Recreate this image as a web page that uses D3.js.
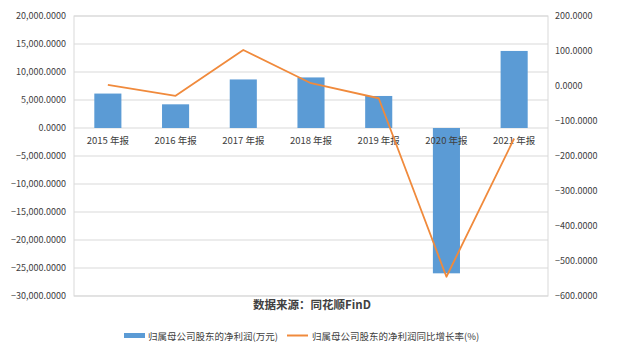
<!DOCTYPE html>
<html><head><meta charset="utf-8">
<script src="https://cdn.jsdelivr.net/npm/d3@7"></script>
<style>body{margin:0;background:#fff;}svg{display:block;}</style>
</head><body>
<svg id="c" width="617" height="356"></svg>
<script>
const categories = ["2015 年报","2016 年报","2017 年报","2018 年报","2019 年报","2020 年报","2021 年报"];
const netProfit = [6150, 4230, 8670, 9030, 5720, -25950, 13760];
const growthRate = [3, -28, 103, 8, -35, -545, -150];
const leftTicks = [20000,15000,10000,5000,0,-5000,-10000,-15000,-20000,-25000,-30000];
const rightTicks = [200,100,0,-100,-200,-300,-400,-500,-600];
const seriesNames = ["归属母公司股东的净利润(万元)","归属母公司股东的净利润同比增长率(%)"];
const title = "数据来源：同花顺FinD";

const svg = d3.select("#c");
const L=74, R=548, T=16, B=296;
const font = "'Noto Sans CJK SC','DejaVu Sans',sans-serif";
const x = d3.scaleBand().domain(categories).range([L,R]).paddingInner(0.6).paddingOuter(0.3);
const yL = d3.scaleLinear().domain([-30000,20000]).range([B,T]);
const yR = d3.scaleLinear().domain([-600,200]).range([B,T]);
const fmt = d3.format(",.4f");

// gridlines
svg.append("g").selectAll("line").data(leftTicks).join("line")
  .attr("x1",L).attr("x2",R).attr("y1",d=>yL(d)).attr("y2",d=>yL(d))
  .attr("stroke","#d9d9d9").attr("stroke-width",1);
svg.append("rect").attr("x",L).attr("y",T).attr("width",R-L).attr("height",B-T)
  .attr("fill","none").attr("stroke","#d9d9d9");

// left axis
const gl = svg.append("g").attr("transform",`translate(${L},0)`)
  .call(d3.axisLeft(yL).tickValues(leftTicks).tickFormat(fmt).tickSize(0).tickPadding(8));
gl.select(".domain").remove();
gl.selectAll("text").attr("font-family",font).attr("font-size",9).attr("fill","#404040");

const gr = svg.append("g").attr("transform",`translate(${R},0)`)
  .call(d3.axisRight(yR).tickValues(rightTicks).tickFormat(fmt).tickSize(0).tickPadding(7));
gr.select(".domain").remove();
gr.selectAll("text").attr("font-family",font).attr("font-size",9).attr("fill","#404040");

// bars
svg.append("g").selectAll("rect").data(netProfit).join("rect")
  .attr("x",(d,i)=>x(categories[i]))
  .attr("width",x.bandwidth())
  .attr("y",d=>Math.min(yL(d),yL(0)))
  .attr("height",d=>Math.abs(yL(d)-yL(0)))
  .attr("fill","#5b9bd5");

// category labels
const gx = svg.append("g").attr("transform",`translate(0,${yL(0)})`)
  .call(d3.axisBottom(x).tickSize(0).tickPadding(9));
gx.select(".domain").remove();
gx.selectAll("text").attr("font-family",font).attr("font-size",9.5).attr("fill","#404040");

// line
const line = d3.line().x((d,i)=>x(categories[i])+x.bandwidth()/2).y(d=>yR(d));
svg.append("path").datum(growthRate).attr("d",line)
  .attr("fill","none").attr("stroke","#f08a3c").attr("stroke-width",1.8).attr("stroke-linejoin","round");

// title
svg.append("text").attr("x",312).attr("y",309).attr("text-anchor","middle")
  .attr("font-family",font).attr("font-size",11.5).attr("font-weight","bold").attr("fill","#404040").text(title);

// legend
const lg = svg.append("g");
lg.append("rect").attr("x",124).attr("y",333).attr("width",21).attr("height",5).attr("fill","#5b9bd5");
lg.append("text").attr("x",148).attr("y",339.5).attr("font-family",font).attr("font-size",9.5).attr("fill","#404040").text(seriesNames[0]);
lg.append("line").attr("x1",287).attr("x2",308).attr("y1",335.5).attr("y2",335.5).attr("stroke","#f08a3c").attr("stroke-width",2);
lg.append("text").attr("x",312).attr("y",339.5).attr("font-family",font).attr("font-size",9.5).attr("fill","#404040").text(seriesNames[1]);
</script>
</body></html>
